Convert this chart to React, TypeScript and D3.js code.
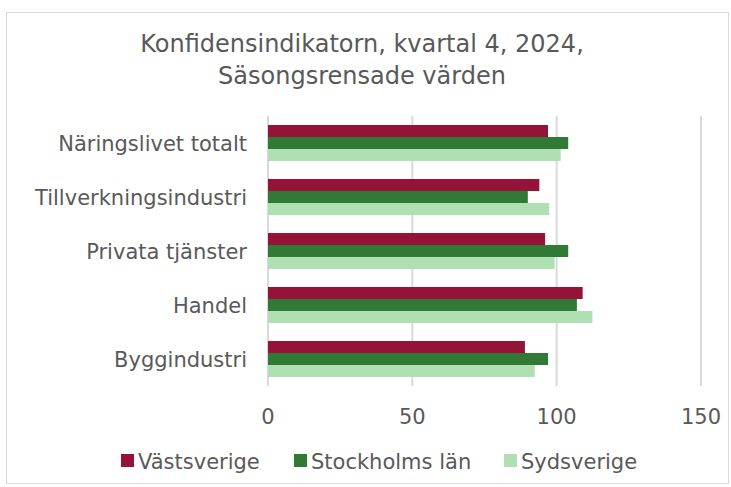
import React from "react";
import * as d3 from "d3";

const categories = [
  "Näringslivet totalt",
  "Tillverkningsindustri",
  "Privata tjänster",
  "Handel",
  "Byggindustri",
];
const seriesNames = ["Västsverige", "Stockholms län", "Sydsverige"];
const vastsverige = [97, 94, 96, 109, 89];
const stockholm = [104, 90, 104, 107, 97];
const sydsverige = [101.4, 97.4, 99.3, 112.4, 92.4];
const xTicks = [0, 50, 100, 150];
const colors = ["#951239", "#317a36", "#b0dfb3"];

const seriesValues = [vastsverige, stockholm, sydsverige];

export default function App() {
  const width = 731,
    height = 487,
    margin = { top: 116, left: 268 },
    innerWidth = 701 - 268,
    innerHeight = 270,
    font = "'DejaVu Sans', Verdana, sans-serif",
    textColor = "#595959";

  const x = d3.scaleLinear().domain([0, 150]).range([0, innerWidth]);
  const y = d3
    .scaleBand<string>()
    .domain(categories)
    .range([0, innerHeight])
    .paddingInner(0.333)
    .paddingOuter(0.1667);
  const ySub = d3
    .scaleBand<number>()
    .domain([0, 1, 2])
    .range([0, y.bandwidth()]);

  const legendX = [121, 294, 504];

  return (
    <div style={{ position: "absolute", left: 0, top: 0 }}>
      <svg width={width} height={height} style={{ display: "block" }}>
        <rect x={0} y={0} width={width} height={height} fill="#fff" />
        <rect
          x={6.5}
          y={12.5}
          width={722}
          height={471}
          fill="#fff"
          stroke="#d9d9d9"
          strokeWidth={1}
        />
        <text
          textAnchor="middle"
          fontFamily={font}
          fontSize={24}
          fill={textColor}
        >
          <tspan x={362} y={52}>
            Konfidensindikatorn, kvartal 4, 2024,
          </tspan>
          <tspan x={362} y={84}>
            Säsongsrensade värden
          </tspan>
        </text>
        <g transform={`translate(${margin.left},${margin.top})`}>
          {xTicks.map((t) => (
            <g key={t} transform={`translate(${x(t)},0)`}>
              <line
                y1={0}
                y2={innerHeight}
                stroke="#d9d9d9"
                strokeWidth={2}
              />
              <text
                y={innerHeight + 38}
                textAnchor="middle"
                fontFamily={font}
                fontSize={21}
                fill={textColor}
              >
                {t}
              </text>
            </g>
          ))}
          {categories.map((c, ci) => (
            <g key={c} transform={`translate(0,${y(c)})`}>
              {seriesValues.map((vals, si) => (
                <rect
                  key={si}
                  x={x(0)}
                  y={ySub(si)}
                  width={x(vals[ci]) - x(0)}
                  height={ySub.bandwidth()}
                  fill={colors[si]}
                />
              ))}
              <text
                x={-21}
                y={y.bandwidth() / 2}
                dy="0.36em"
                textAnchor="end"
                fontFamily={font}
                fontSize={21}
                fill={textColor}
              >
                {c}
              </text>
            </g>
          ))}
        </g>
        <g>
          {seriesNames.map((s, i) => (
            <g key={s} transform={`translate(${legendX[i]},454)`}>
              <rect x={0} y={0} width={13} height={13} fill={colors[i]} />
              <text
                x={17}
                y={14.5}
                fontFamily={font}
                fontSize={21}
                fill={textColor}
              >
                {s}
              </text>
            </g>
          ))}
        </g>
      </svg>
    </div>
  );
}
